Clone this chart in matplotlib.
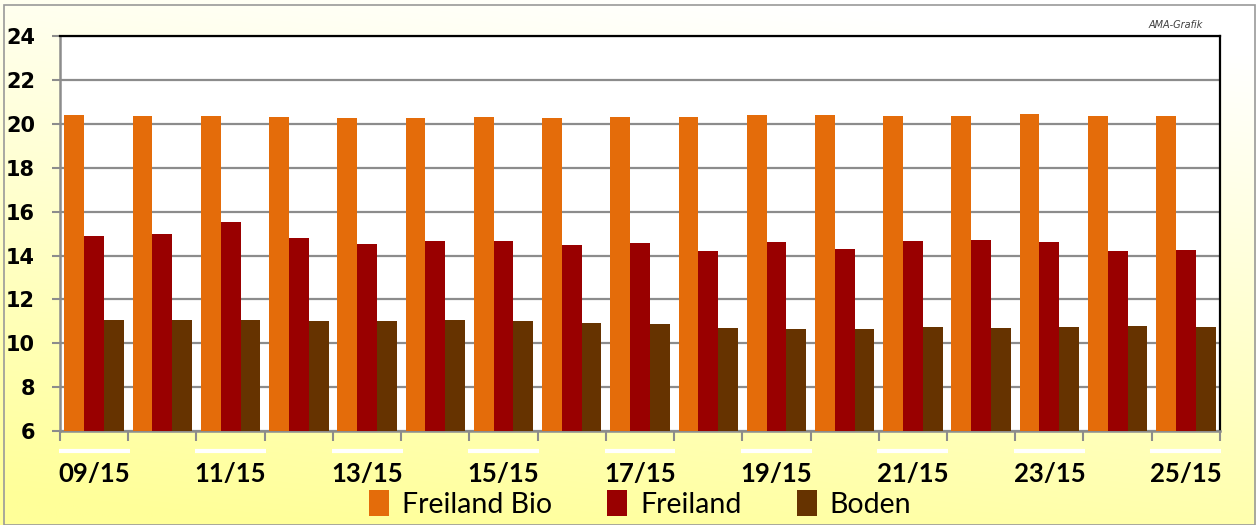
import matplotlib
matplotlib.use('Agg')
import matplotlib.pyplot as plt
import numpy as np
from matplotlib.patches import Rectangle
from matplotlib.ticker import FixedLocator, NullFormatter

weeks = ['09/15', '10/15', '11/15', '12/15', '13/15', '14/15', '15/15', '16/15', '17/15',
         '18/15', '19/15', '20/15', '21/15', '22/15', '23/15', '24/15', '25/15']
freiland_bio = [20.40, 20.36, 20.37, 20.31, 20.28, 20.28, 20.32, 20.29, 20.31,
                20.31, 20.40, 20.40, 20.36, 20.36, 20.45, 20.36, 20.36]
freiland = [14.88, 14.97, 15.53, 14.78, 14.51, 14.65, 14.65, 14.47, 14.56,
            14.19, 14.60, 14.28, 14.68, 14.72, 14.60, 14.19, 14.27]
boden = [11.05, 11.07, 11.04, 11.01, 11.01, 11.07, 11.01, 10.93, 10.89,
         10.70, 10.66, 10.67, 10.74, 10.68, 10.75, 10.78, 10.75]
series = [('Freiland Bio', freiland_bio, '#E46C0A'),
          ('Freiland', freiland, '#990000'),
          ('Boden', boden, '#663300')]
tick_labels = [w if i % 2 == 0 else '' for i, w in enumerate(weeks)]

plt.rcParams['font.family'] = ['Lato', 'DejaVu Sans']

fig = plt.figure(figsize=(12.56, 5.25), dpi=100)

# background gradient white -> pale yellow
bg = fig.add_axes([0, 0, 1, 1], zorder=-10)
yy, xx = np.mgrid[0:1:200j, 0:1:400j]
t = np.clip(0.9 * yy + 0.25 * (1 - xx) - 0.1, 0, 1)
top = np.array([1.0, 1.0, 1.0])
bot = np.array([1.0, 1.0, 0.6])
img = top[None, None, :] * (1 - t[..., None]) + bot[None, None, :] * t[..., None]
bg.imshow(img, aspect='auto', extent=[0, 1, 0, 1], origin='upper')
bg.set_xlim(0, 1)
bg.set_ylim(0, 1)
bg.axis('off')
fig.patches.append(Rectangle((0.003, 0.0), 0.996, 0.99, transform=fig.transFigure,
                             fill=False, edgecolor='#999999', lw=1.2))

ax = fig.add_axes([0.0478, 0.179, 0.9235, 0.752])
ax.set_facecolor('white')
x = np.arange(len(weeks))
w = 0.29
for k, (name, vals, col) in enumerate(series):
    ax.bar(x + (k - 1) * w, np.array(vals) - 6, w, bottom=6, color=col, label=name, zorder=3)

ax.set_xlim(-0.5, len(weeks) - 0.5)
ax.set_ylim(6, 24)
ax.set_yticks(range(6, 25, 2))
ax.yaxis.grid(True, color='#8c8c8c', lw=1.6, zorder=0)
ax.tick_params(axis='y', length=6, width=1.5, color='#8c8c8c', pad=12, labelsize=15)
for lab in ax.get_yticklabels():
    lab.set_fontweight('bold')
    lab.set_family(['DejaVu Sans'])

ax.xaxis.set_major_locator(FixedLocator(np.arange(-0.5, len(weeks), 1)))
ax.xaxis.set_major_formatter(NullFormatter())
ax.set_xticks(x, minor=True)
ax.set_xticklabels(tick_labels, minor=True, fontsize=18.5, fontweight='bold')
ax.tick_params(axis='x', which='major', length=7, width=1.5, color='#8c8c8c')
ax.tick_params(axis='x', which='minor', length=0, pad=22)

# white strips above the labels
for i in range(0, len(weeks), 2):
    ax.plot([i - 0.52, i + 0.52], [-0.05, -0.05], color='white', lw=3,
            transform=ax.get_xaxis_transform(), clip_on=False, solid_capstyle='butt')

ax.spines['left'].set_color('#8c8c8c')
ax.spines['left'].set_linewidth(1.8)
ax.spines['bottom'].set_color('#8c8c8c')
ax.spines['bottom'].set_linewidth(1.8)
ax.spines['top'].set_color('black')
ax.spines['top'].set_linewidth(1.6)
ax.spines['right'].set_color('black')
ax.spines['right'].set_linewidth(1.6)

fig.text(0.936, 0.953, 'AMA-Grafik', fontsize=7, style='italic', color='#404040',
         ha='center', va='center', family=['DejaVu Sans'])

ax.legend(loc='center', bbox_to_anchor=(0.5, -0.185), ncol=3, frameon=False,
          fontsize=20.5, handlelength=0.7, handleheight=1.0, handletextpad=0.45,
          columnspacing=1.95)

plt.savefig('out.png', dpi=100)
